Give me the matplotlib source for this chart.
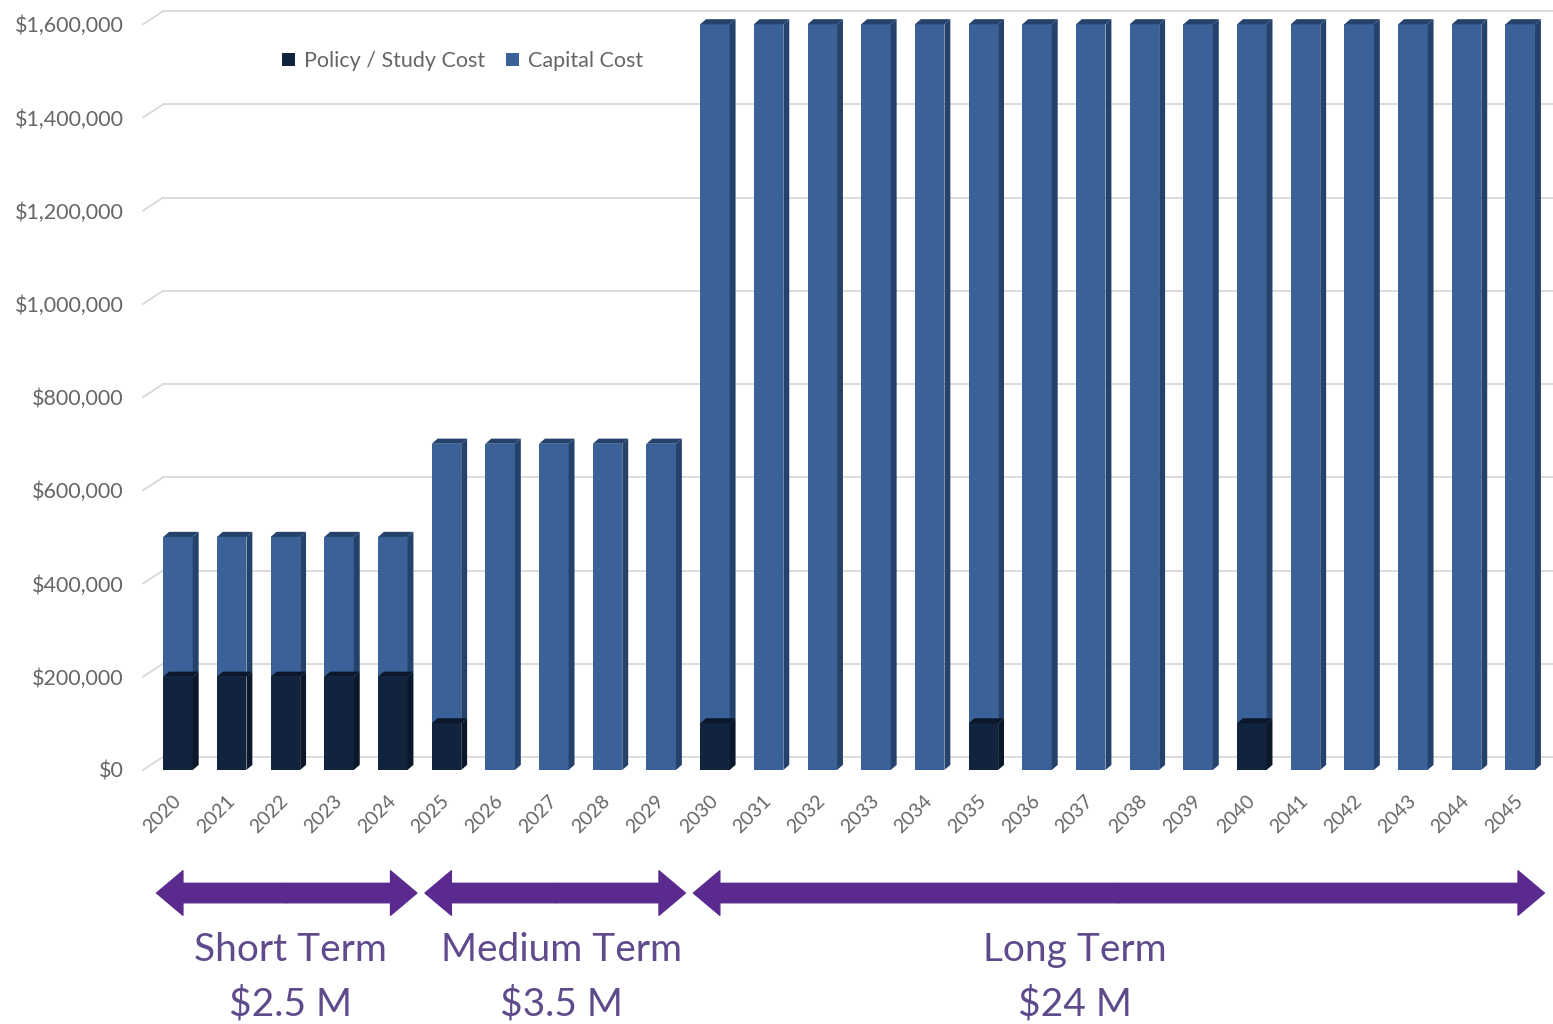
import matplotlib.pyplot as plt
from matplotlib.patches import Polygon, FancyArrowPatch, Patch
from matplotlib.transforms import blended_transform_factory

years = [str(y) for y in range(2020, 2046)]
policy = [200000] * 5 + [100000, 0, 0, 0, 0] + [100000, 0, 0, 0, 0] + [100000, 0, 0, 0, 0] + [100000, 0, 0, 0, 0, 0]
capital = [300000] * 5 + [600000, 700000, 700000, 700000, 700000] + \
          [1500000, 1600000, 1600000, 1600000, 1600000] + [1500000, 1600000, 1600000, 1600000, 1600000] + \
          [1500000, 1600000, 1600000, 1600000, 1600000, 1600000]
yticks = [0, 200000, 400000, 600000, 800000, 1000000, 1200000, 1400000, 1600000]
ytick_labels = ['$0', '$200,000', '$400,000', '$600,000', '$800,000', '$1,000,000', '$1,200,000',
                '$1,400,000', '$1,600,000']
periods = ['Short Term', 'Medium Term', 'Long Term']
period_totals = ['$2.5 M', '$3.5 M', '$24 M']
period_span = [(0, 4), (5, 9), (10, 25)]
period_label_x = [2.1, 7.15, 16.7]

c_policy, c_policy_side = '#12233d', '#0b172b'
c_cap, c_cap_side = '#3a6298', '#24426b'
purple = '#5b2a8e'
txt_purple = '#5f4b8c'
grey = '#666666'

plt.rcParams['font.family'] = ['Lato', 'DejaVu Sans']

fig = plt.figure(figsize=(15.53, 10.24), dpi=100)
ax = fig.add_axes([143 / 1553, 254 / 1024, 1410 / 1553, 769 / 1024])
ax.set_xlim(-0.652, 25.61)
ax.set_ylim(0, 1650000)

w = 0.55
ddx, ddy = 0.11, 11000
grid_dy = 28000

# back wall gridlines with floor diagonal
for v in yticks:
    ax.plot([-0.652, -0.28], [v, v + grid_dy], color='#d6d6d6', lw=1.2, clip_on=False, zorder=1)
    ax.plot([-0.28, 25.61], [v + grid_dy, v + grid_dy], color='#d6d6d6', lw=1.2, zorder=1)


def bar3d(x, bottom, h, front, side):
    if h <= 0:
        return
    x0, x1 = x - w / 2, x + w / 2
    top = bottom + h
    ax.add_patch(Polygon([(x0, bottom), (x1, bottom), (x1, top), (x0, top)], closed=True,
                         facecolor=front, edgecolor='none', zorder=3))
    ax.add_patch(Polygon([(x1, bottom), (x1 + ddx, bottom + ddy), (x1 + ddx, top + ddy), (x1, top)],
                         closed=True, facecolor=side, edgecolor='none', zorder=3))
    ax.add_patch(Polygon([(x0, top), (x0 + ddx, top + ddy), (x1 + ddx, top + ddy), (x1, top)],
                         closed=True, facecolor=side, edgecolor='none', zorder=3))


for i in range(len(years)):
    bar3d(i, policy[i], capital[i], c_cap, c_cap_side)
    bar3d(i, 0, policy[i], c_policy, c_policy_side)

ax.set_yticks(yticks)
ax.set_yticklabels(ytick_labels)
ax.set_xticks(range(len(years)))
ax.set_xticklabels(years, rotation=45, ha='right', va='center', rotation_mode='anchor')
ax.tick_params(axis='y', length=0, pad=14, labelsize=15.5, labelcolor=grey)
ax.tick_params(axis='x', length=0, pad=20, labelsize=14, labelcolor=grey)
for s in ax.spines.values():
    s.set_visible(False)

handles = [Patch(facecolor=c_policy, label='Policy / Study Cost'),
           Patch(facecolor=c_cap, label='Capital Cost')]
ax.legend(handles=handles, ncol=2, loc='center left', bbox_to_anchor=(0.085, 0.922), frameon=False,
          fontsize=15.5, handlelength=0.6, handleheight=0.6, handletextpad=0.4, columnspacing=1.0,
          labelcolor=grey)

# period arrows and labels below the axis
tr = blended_transform_factory(ax.transData, ax.transAxes)
for (a, b), name, tot, lx in zip(period_span, periods, period_totals, period_label_x):
    x0, x1 = a - 0.4, b + 0.45
    mid = (x0 + x1) / 2
    for end in (x0, x1):
        ax.add_patch(FancyArrowPatch((mid, -0.16), (end, -0.16), transform=tr, clip_on=False,
                                     arrowstyle='simple,head_length=1.9,head_width=3.2,tail_width=1.4',
                                     mutation_scale=10, color=purple, shrinkA=0, shrinkB=0))
    ax.text(lx, -0.234, name, transform=tr, ha='center', va='center', fontsize=28, color=txt_purple)
    ax.text(lx, -0.304, tot, transform=tr, ha='center', va='center', fontsize=28, color=txt_purple)

fig.savefig('out.png', dpi=100)
